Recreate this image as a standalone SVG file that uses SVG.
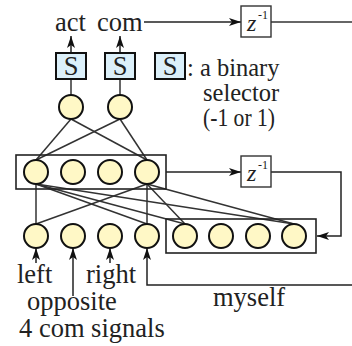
<svg xmlns="http://www.w3.org/2000/svg" width="352" height="346" viewBox="0 0 352 346">
<defs>
<marker id="ah" viewBox="0 0 12 8" markerWidth="12" markerHeight="8" refX="12" refY="4" orient="auto" markerUnits="userSpaceOnUse">
<path d="M0,0 L12,4 L0,8 L3,4 z" fill="#111"/>
</marker>
<style>
.n{fill:#fff8c6;stroke:#111;stroke-width:2}
.s{fill:#dcf0fa;stroke:#111;stroke-width:2}
.r{fill:none;stroke:#222;stroke-width:1.6}
.zb{fill:#fff;stroke:#333;stroke-width:1.4}
.c{fill:none;stroke:#333;stroke-width:1.5}
.a{fill:none;stroke:#222;stroke-width:1.5;marker-end:url(#ah)}
text{font-family:"Liberation Serif","Times New Roman",serif;fill:#222}
.t{font-size:26.5px}
.l{font-size:24.5px}
.z{font-size:24px;font-style:italic}
.e{font-size:12px}
</style>
</defs>
<g id="connectors">
<line class="c" x1="71" y1="119" x2="36" y2="160"/>
<line class="c" x1="71" y1="119" x2="147" y2="160"/>
<line class="c" x1="120" y1="119" x2="36" y2="160"/>
<line class="c" x1="120" y1="119" x2="147" y2="160"/>
<line class="c" x1="71" y1="95" x2="71" y2="79"/>
<line class="c" x1="120" y1="95" x2="120" y2="79"/>
<line class="a" x1="71" y1="53" x2="71" y2="36"/>
<line class="a" x1="120" y1="53" x2="120" y2="36"/>
<line class="a" x1="144" y1="22" x2="241" y2="22"/>
<line class="c" x1="271" y1="22" x2="352" y2="22"/>
<line class="a" x1="166" y1="172" x2="241" y2="172"/>
<path class="a" d="M271,172 H341 V236 H317"/>
<line class="c" x1="36" y1="184" x2="36" y2="224"/>
<line class="c" x1="36" y1="184" x2="147" y2="224"/>
<line class="c" x1="36" y1="184" x2="185" y2="224"/>
<line class="c" x1="36" y1="184" x2="294" y2="224"/>
<line class="c" x1="147" y1="184" x2="36" y2="224"/>
<line class="c" x1="147" y1="184" x2="147" y2="224"/>
<line class="c" x1="147" y1="184" x2="185" y2="224"/>
<line class="c" x1="147" y1="184" x2="294" y2="224"/>
<line class="a" x1="36" y1="263" x2="36" y2="248"/>
<line class="a" x1="73" y1="296" x2="73" y2="248"/>
<line class="a" x1="110" y1="263" x2="110" y2="248"/>
<path class="a" d="M352,285 H147 V248"/>
</g>
<g id="labels">
<text class="t" x="17" y="283">left</text>
<text class="t" x="86" y="283">right</text>
<text class="t" x="55" y="31">act</text>
<text class="t" x="97" y="31">com</text>
<text class="t" x="27" y="310">opposite</text>
<text class="t" x="19" y="337">4 com signals</text>
<text class="t" x="213" y="306">myself</text>
</g>
<g id="z-top">
<rect class="zb" x="241" y="6" width="30" height="31"/>
<text class="z" x="247" y="31">z</text>
<text class="e" x="258" y="19">-1</text>
</g>
<g id="z-mid">
<rect class="zb" x="241" y="156" width="30" height="31"/>
<text class="z" x="247" y="181">z</text>
<text class="e" x="258" y="169">-1</text>
</g>
<g id="sel-act">
<rect class="s" x="56" y="53" width="30" height="26"/>
<text class="t" x="71" y="75" text-anchor="middle">S</text>
</g>
<g id="sel-com">
<rect class="s" x="105" y="53" width="30" height="26"/>
<text class="t" x="120" y="75" text-anchor="middle">S</text>
</g>
<g id="legend">
<rect class="s" x="155" y="53" width="30" height="26"/>
<text class="t" x="170" y="75" text-anchor="middle">S</text>
<text class="l" x="187" y="76">: a binary</text>
<text class="l" x="203" y="101">selector</text>
<text class="l" x="203" y="126" textLength="72" lengthAdjust="spacingAndGlyphs">(-1 or 1)</text>
</g>
<g id="out-act"><circle class="n" cx="71" cy="107" r="12"/></g>
<g id="out-com"><circle class="n" cx="120" cy="107" r="12"/></g>
<g id="hidden">
<rect class="r" x="16" y="155" width="150" height="34"/>
<circle class="n" cx="36" cy="172" r="12"/>
<circle class="n" cx="73" cy="172" r="12"/>
<circle class="n" cx="110" cy="172" r="12"/>
<circle class="n" cx="147" cy="172" r="12"/>
</g>
<g id="inputs">
<circle class="n" cx="36" cy="236" r="12"/>
<circle class="n" cx="73" cy="236" r="12"/>
<circle class="n" cx="110" cy="236" r="12"/>
<circle class="n" cx="147" cy="236" r="12"/>
</g>
<g id="context">
<rect class="r" x="166" y="219" width="150" height="34"/>
<circle class="n" cx="185" cy="236" r="12"/>
<circle class="n" cx="221" cy="236" r="12"/>
<circle class="n" cx="258" cy="236" r="12"/>
<circle class="n" cx="294" cy="236" r="12"/>
</g>
</svg>
